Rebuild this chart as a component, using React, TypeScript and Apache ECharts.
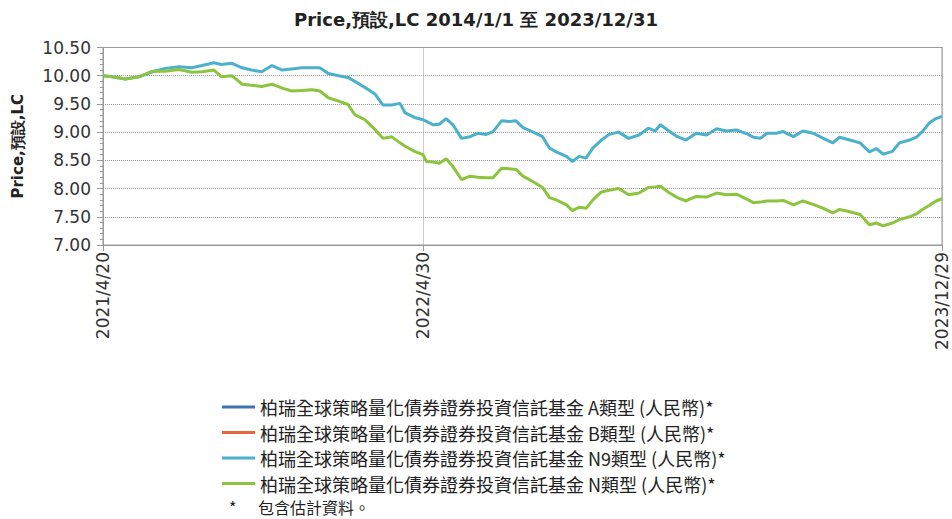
import React, { useEffect, useRef } from "react";
import * as echarts from "echarts";

const titleText = "Price,預設,LC 2014/1/1 至 2023/12/31";
const yAxisName = "Price,預設,LC";
const footnoteMark = "*";
const footnoteText = "包含估計資料。";

const seriesNames = [
  "柏瑞全球策略量化債券證券投資信託基金 A類型 (人民幣)*",
  "柏瑞全球策略量化債券證券投資信託基金 B類型 (人民幣)*",
  "柏瑞全球策略量化債券證券投資信託基金 N9類型 (人民幣)*",
  "柏瑞全球策略量化債券證券投資信託基金 N類型 (人民幣)*",
];
const seriesColors = ["#3f72b5", "#e8643a", "#4bb0cc", "#8cc43e"];

const xTickDates = ["2021-04-20", "2022-04-30", "2023-12-29"];
const yTicks = [7.0, 7.5, 8.0, 8.5, 9.0, 9.5, 10.0, 10.5];

const dates = [
  "2021-04-20", "2021-05-01", "2021-05-16", "2021-06-01", "2021-06-17", "2021-07-02",
  "2021-07-18", "2021-08-02", "2021-08-14", "2021-08-28", "2021-09-06", "2021-09-18",
  "2021-09-30", "2021-10-11", "2021-10-23", "2021-11-04", "2021-11-16", "2021-11-27",
  "2021-12-09", "2021-12-21", "2021-12-30", "2022-01-09", "2022-01-21", "2022-02-01",
  "2022-02-09", "2022-02-21", "2022-03-05", "2022-03-14", "2022-03-24", "2022-04-03",
  "2022-04-09", "2022-04-20", "2022-04-30", "2022-05-04", "2022-05-12", "2022-05-19",
  "2022-05-27", "2022-06-04", "2022-06-14", "2022-06-24", "2022-07-03", "2022-07-13",
  "2022-07-21", "2022-07-31", "2022-08-09", "2022-08-17", "2022-08-25", "2022-09-06",
  "2022-09-17", "2022-09-25", "2022-10-03", "2022-10-15", "2022-10-22", "2022-10-30",
  "2022-11-07", "2022-11-15", "2022-11-25", "2022-12-04", "2022-12-15", "2022-12-27",
  "2023-01-08", "2023-01-19", "2023-01-27", "2023-02-02", "2023-02-12", "2023-02-22",
  "2023-03-04", "2023-03-16", "2023-03-28", "2023-04-09", "2023-04-20", "2023-05-02",
  "2023-05-16", "2023-05-22", "2023-05-30", "2023-06-07", "2023-06-18", "2023-06-26",
  "2023-07-08", "2023-07-19", "2023-07-31", "2023-08-12", "2023-08-23", "2023-08-31",
  "2023-09-12", "2023-09-24", "2023-10-05", "2023-10-13", "2023-10-21", "2023-11-01",
  "2023-11-09", "2023-11-21", "2023-11-29", "2023-12-06", "2023-12-14", "2023-12-22",
  "2023-12-29",
];

const navN9 = [
  10.0, 9.98, 9.94, 9.98, 10.07, 10.13,
  10.16, 10.14, 10.18, 10.23, 10.2, 10.22,
  10.14, 10.1, 10.07, 10.18, 10.1, 10.12,
  10.14, 10.14, 10.14, 10.04, 10.0, 9.97,
  9.9, 9.79, 9.67, 9.48, 9.48, 9.51,
  9.34, 9.26, 9.22, 9.19, 9.13, 9.14,
  9.24, 9.13, 8.89, 8.92, 8.98, 8.96,
  9.01, 9.2, 9.19, 9.2, 9.08, 9.0,
  8.92, 8.72, 8.65, 8.57, 8.48, 8.57,
  8.54, 8.72, 8.86, 8.96, 9.0, 8.89,
  8.95, 9.07, 9.02, 9.13, 9.02, 8.92,
  8.86, 8.98, 8.95, 9.06, 9.02, 9.04,
  8.96, 8.91, 8.89, 8.98, 8.98, 9.01,
  8.92, 9.02, 8.98, 8.89, 8.81, 8.91,
  8.86, 8.81, 8.65, 8.71, 8.61, 8.66,
  8.81, 8.86, 8.91, 9.01, 9.16, 9.24,
  9.28,
];

const navN = [
  10.0, 9.98, 9.94, 9.98, 10.08, 10.08,
  10.11, 10.06, 10.07, 10.1, 9.98, 10.0,
  9.85, 9.83, 9.81, 9.85, 9.78, 9.73,
  9.74, 9.75, 9.73, 9.61, 9.55, 9.49,
  9.31, 9.22, 9.04, 8.89, 8.92, 8.81,
  8.75, 8.66, 8.6, 8.48, 8.47, 8.45,
  8.53, 8.39, 8.16, 8.22, 8.2, 8.19,
  8.19, 8.36, 8.35, 8.34, 8.22, 8.12,
  8.02, 7.84, 7.8, 7.71, 7.61, 7.67,
  7.65, 7.8, 7.94, 7.97, 8.0, 7.89,
  7.92, 8.02, 8.03, 8.04, 7.93, 7.84,
  7.78, 7.86, 7.85, 7.92, 7.89, 7.9,
  7.8, 7.75, 7.76, 7.78, 7.78, 7.79,
  7.71, 7.78, 7.72, 7.65, 7.57, 7.63,
  7.59, 7.54, 7.36, 7.39, 7.34, 7.39,
  7.45, 7.5, 7.55, 7.63, 7.7, 7.78,
  7.82,
];

const seriesValues: number[][] = [[], [], navN9, navN];

function ts(s: string): number {
  const [y, m, d] = s.split("-").map(Number);
  return new Date(y, m - 1, d).getTime();
}

function fmtDate(v: number): string {
  const d = new Date(v);
  return `${d.getFullYear()}/${d.getMonth() + 1}/${d.getDate()}`;
}

export default function App() {
  const ref = useRef<HTMLDivElement>(null);

  useEffect(() => {
    if (!ref.current) return;
    const chart = echarts.init(ref.current, undefined, { renderer: "svg" });
    const tickTs = xTickDates.map(ts);
    const latin = "'DejaVu Sans', Verdana, sans-serif";
    const cjk = "'Noto Sans CJK TC', 'Noto Sans', sans-serif";

    chart.setOption({
      animation: false,
      color: seriesColors,
      title: {
        text: titleText,
        left: "center",
        top: 10,
        padding: 0,
        textStyle: {
          fontFamily: latin,
          fontWeight: "bold",
          fontSize: 18,
          color: "#222",
        },
      },
      grid: {
        left: 103,
        right: 10,
        top: 47.5,
        bottom: 274,
        show: true,
        borderColor: "#999",
        borderWidth: 1,
        containLabel: false,
      },
      legend: {
        orient: "vertical",
        left: 222,
        top: 398,
        padding: 0,
        icon: "rect",
        itemWidth: 33,
        itemHeight: 3,
        itemGap: 7.5,
        data: seriesNames,
        selectedMode: false,
        textStyle: {
          fontFamily: cjk,
          fontSize: 18,
          lineHeight: 18,
          color: "#222",
        },
      },
      xAxis: {
        type: "value",
        min: tickTs[0],
        max: tickTs[tickTs.length - 1],
        axisLine: { show: true, lineStyle: { color: "#999" } },
        axisTick: {
          show: true,
          customValues: tickTs,
          length: 6,
          lineStyle: { color: "#999" },
        },
        axisLabel: {
          customValues: tickTs,
          rotate: 90,
          margin: 7,
          fontFamily: latin,
          fontSize: 17,
          color: "#333",
          formatter: (v: number) => fmtDate(v),
        },
        splitLine: {
          show: true,
          lineStyle: { color: "#999", type: "dotted", width: 1 },
        },
      },
      yAxis: {
        type: "value",
        min: 7,
        max: 10.5,
        interval: 0.5,
        name: yAxisName,
        nameLocation: "middle",
        nameGap: 78,
        nameTextStyle: {
          fontFamily: latin,
          fontWeight: "bold",
          fontSize: 15,
          color: "#222",
        },
        axisLine: { show: true, lineStyle: { color: "#999" } },
        axisTick: { show: true, length: 6, lineStyle: { color: "#999" } },
        minorTick: { show: true, splitNumber: 5, length: 3, lineStyle: { color: "#999" } },
        axisLabel: {
          margin: 12,
          fontFamily: latin,
          fontSize: 17,
          color: "#333",
          formatter: (v: number) => (yTicks.includes(v) ? v.toFixed(2) : ""),
        },
        splitLine: {
          show: true,
          lineStyle: { color: "#999", type: "dotted", width: 1 },
        },
      },
      series: seriesNames.map((name, i) => ({
        name,
        type: "line",
        showSymbol: false,
        symbol: "none",
        lineStyle: { width: 3, color: seriesColors[i] },
        itemStyle: { color: seriesColors[i] },
        data: seriesValues[i].map((v, j) => [ts(dates[j]), v]),
      })),
      graphic: [
        {
          type: "text",
          left: 229,
          top: 499,
          style: { text: footnoteMark, fontFamily: cjk, fontSize: 16, fill: "#222" },
        },
        {
          type: "text",
          left: 258,
          top: 499,
          style: { text: footnoteText, fontFamily: cjk, fontSize: 16, fill: "#222" },
        },
      ],
    });

    return () => chart.dispose();
  }, []);

  return (
    <div
      ref={ref}
      style={{ position: "absolute", left: 0, top: 0, width: 952, height: 519, background: "#fff" }}
    />
  );
}
